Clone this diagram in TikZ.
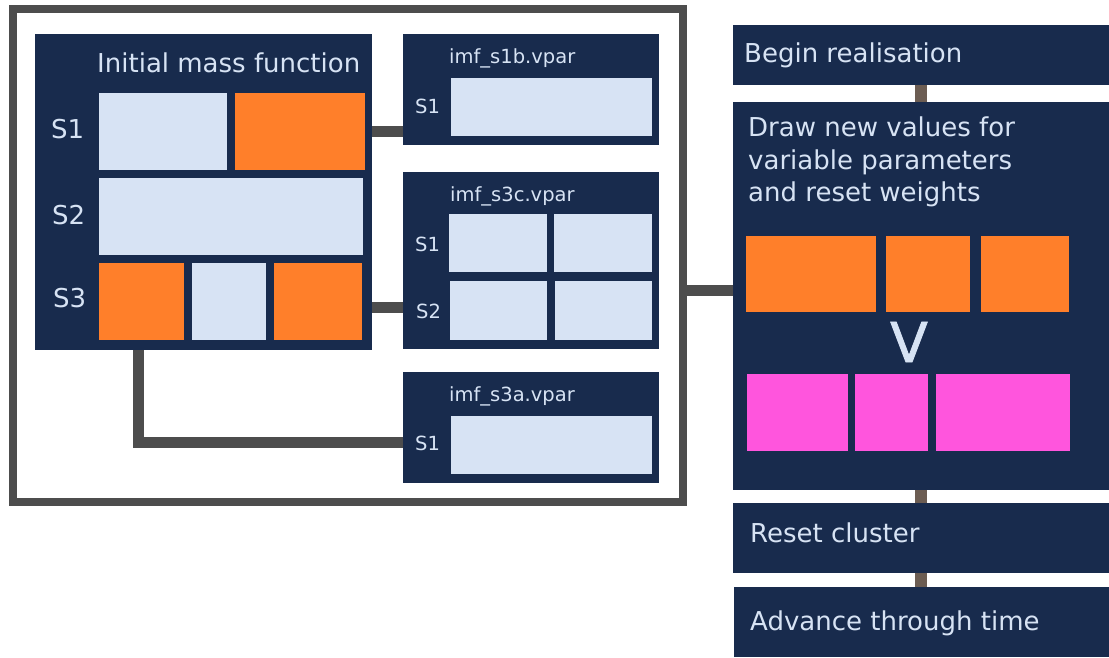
\documentclass[tikz,border=0pt]{standalone}
\usepackage{fontspec}
\setmainfont{DejaVu Sans}
\newfontfamily\heavyvfont[FakeBold=1.5]{DejaVu Sans}
\usetikzlibrary{positioning}

\definecolor{navy}{HTML}{182B4D}
\definecolor{paleblue}{HTML}{D7E3F4}
\definecolor{fixorange}{HTML}{FF7F2A}
\definecolor{drawpink}{HTML}{FF55DD}
\definecolor{framegray}{HTML}{4D4D4D}
\definecolor{flowbrown}{HTML}{6C5D53}

\begin{document}
\begin{tikzpicture}
  [
  x=1pt,y=-1pt,
  panel/.style={rectangle,fill=navy,inner sep=0pt,outer sep=0pt,anchor=north west},
  lcell/.style={rectangle,fill=paleblue,inner sep=0pt,outer sep=0pt,anchor=north west},
  ocell/.style={rectangle,fill=fixorange,inner sep=0pt,outer sep=0pt,anchor=north west},
  pcell/.style={rectangle,fill=drawpink,inner sep=0pt,outer sep=0pt,anchor=north west},
  bigtxt/.style={text=paleblue,inner sep=0pt,anchor=base west,font=\fontsize{26}{32.5}\selectfont},
  smalltxt/.style={text=paleblue,inner sep=0pt,anchor=base west,font=\fontsize{19.5}{24}\selectfont},
  link/.style={draw=framegray,line width=11pt},
  flowlink/.style={draw=flowbrown,line width=12pt}
  ]
  \useasboundingbox (0,0) rectangle (1109,657);

  % frame round the parameter files
  \node (frame) [draw=framegray,line width=8.5pt,inner sep=0pt,outer sep=0pt,anchor=north west,
    minimum width=670,minimum height=493] at (13,9) {};

  % initial mass function
  \node (imf) [panel,minimum width=337,minimum height=316] at (35,34) {};
  \node (imftitle) [bigtxt] at (97,72) {Initial mass function};
  \node (imfs1) [bigtxt] at (51,138.5) {S1};
  \node (imfs2) [bigtxt] at (52,224.5) {S2};
  \node (imfs3) [bigtxt] at (53,307.5) {S3};
  \node (imfa1) [lcell,minimum width=128,minimum height=77] at (99,93) {};
  \node (imfa2) [ocell,minimum width=130,minimum height=77] at (235,93) {};
  \node (imfb1) [lcell,minimum width=264,minimum height=77] at (99,178) {};
  \node (imfc1) [ocell,minimum width=85,minimum height=77] at (99,263) {};
  \node (imfc2) [lcell,minimum width=74,minimum height=77] at (192,263) {};
  \node (imfc3) [ocell,minimum width=88,minimum height=77] at (274,263) {};

  % imf_s1b.vpar
  \node (s1b) [panel,minimum width=256,minimum height=111] at (403,34) {};
  \node (s1btitle) [smalltxt] at (449,63.5) {imf\_s1b.vpar};
  \node (s1bs1) [smalltxt] at (415,113) {S1};
  \node (s1ba1) [lcell,minimum width=201,minimum height=58] at (451,78) {};

  % imf_s3c.vpar
  \node (s3c) [panel,minimum width=256,minimum height=177] at (403,172) {};
  \node (s3ctitle) [smalltxt] at (450,201.5) {imf\_s3c.vpar};
  \node (s3cs1) [smalltxt] at (415,251) {S1};
  \node (s3cs2) [smalltxt] at (416,318) {S2};
  \node (s3ca1) [lcell,minimum width=98,minimum height=58] at (449,214) {};
  \node (s3ca2) [lcell,minimum width=98,minimum height=58] at (554,214) {};
  \node (s3cb1) [lcell,minimum width=97,minimum height=59] at (450,281) {};
  \node (s3cb2) [lcell,minimum width=97,minimum height=59] at (555,281) {};

  % imf_s3a.vpar
  \node (s3a) [panel,minimum width=256,minimum height=111] at (403,372) {};
  \node (s3atitle) [smalltxt] at (449,401.5) {imf\_s3a.vpar};
  \node (s3as1) [smalltxt] at (415,450) {S1};
  \node (s3aa1) [lcell,minimum width=201,minimum height=58] at (451,416) {};

  % realisation steps
  \node (begin) [panel,minimum width=376,minimum height=60] at (733,25) {};
  \node (begintxt) [bigtxt] at (744,62) {Begin realisation};
  \node (redraw) [panel,minimum width=376,minimum height=388] at (733,102) {};
  \node (redrawtxt) [text=paleblue,inner sep=0pt,anchor=north west,align=left,
    font=\fontsize{26}{32.5}\selectfont] at (748,117)
    {Draw new values for\\variable parameters\\and reset weights};
  \node (old1) [ocell,minimum width=130,minimum height=76] at (746,236) {};
  \node (old2) [ocell,minimum width=84,minimum height=76] at (886,236) {};
  \node (old3) [ocell,minimum width=88,minimum height=76] at (981,236) {};
  \node (arrowv) [text=paleblue,inner sep=0pt,font=\fontsize{55}{55}\heavyvfont]
    at (909,342) {V};
  \node (new1) [pcell,minimum width=101,minimum height=77] at (747,374) {};
  \node (new2) [pcell,minimum width=73,minimum height=77] at (855,374) {};
  \node (new3) [pcell,minimum width=134,minimum height=77] at (936,374) {};
  \node (reset) [panel,minimum width=376,minimum height=70] at (733,503) {};
  \node (resettxt) [bigtxt] at (750,542) {Reset cluster};
  \node (advance) [panel,minimum width=375,minimum height=70] at (734,587) {};
  \node (advancetxt) [bigtxt] at (750,630) {Advance through time};

  % connectors
  \coordinate (tap) at (683,290);
  \coordinate (s3cjoin) at (403,307);
  \draw [link] (imf.east |- imfa2) -- (s1b.west |- imfa2);
  \draw [link] (imf.east |- s3cjoin) -- (s3cjoin);
  \draw [link] ([xshift=103pt]imf.south west) |- (s3a.west |- s3as1);
  \draw [link] (tap) -- (tap -| redraw.west);
  \draw [flowlink] (begin.south) -- (redraw.north);
  \draw [flowlink] (redraw.south) -- (reset.north);
  \draw [flowlink] (reset.south) -- (reset.south |- advance.north);
\end{tikzpicture}
\end{document}
